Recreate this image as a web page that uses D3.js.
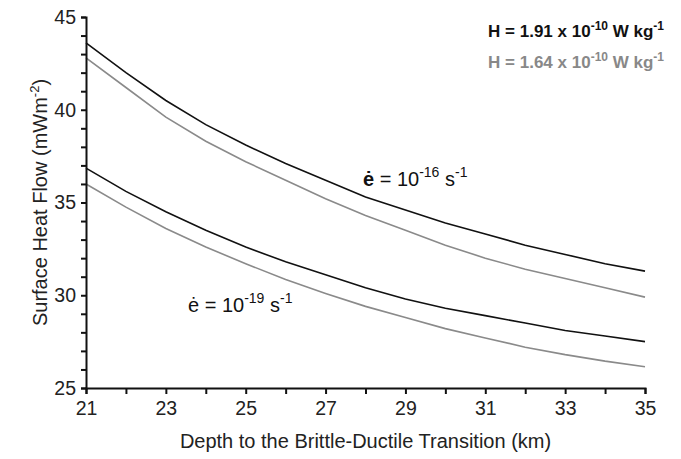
<!DOCTYPE html>
<html><head><meta charset="utf-8">
<script src="https://cdn.jsdelivr.net/npm/d3@7"></script>
<style>body{margin:0;background:#fff;} text{font-family:"Liberation Sans",Arial,sans-serif;}</style>
</head><body><svg id="c" width="681" height="459"></svg>
<script>
const depth = [21,22,23,24,25,26,27,28,29,30,31,32,33,34,35];
const hiStrainHighH = [43.6,42.0,40.5,39.2,38.1,37.1,36.2,35.3,34.6,33.9,33.3,32.7,32.2,31.7,31.3];
const hiStrainLowH  = [42.8,41.2,39.6,38.3,37.2,36.2,35.2,34.3,33.5,32.7,32.0,31.4,30.9,30.4,29.9];
const loStrainHighH = [36.85,35.6,34.5,33.5,32.6,31.8,31.1,30.4,29.8,29.3,28.9,28.5,28.1,27.8,27.5];
const loStrainLowH  = [36.0,34.75,33.6,32.6,31.7,30.85,30.1,29.4,28.8,28.2,27.7,27.2,26.8,26.45,26.15];
const xTickLabels = [21,23,25,27,29,31,33,35];
const yTickLabels = [25,30,35,40,45];

const svg = d3.select("#c");
const L=86, R=645, T=17, B=388;
const x = d3.scaleLinear().domain([21,35]).range([L,R]);
const y = d3.scaleLinear().domain([25,45]).range([B,T]);

const series = [
  {v: loStrainLowH, c:"#8a8a8a"},
  {v: loStrainHighH, c:"#111"},
  {v: hiStrainLowH, c:"#8a8a8a"},
  {v: hiStrainHighH, c:"#111"}
];
const line = d3.line().x((d,i)=>x(depth[i])).y(d=>y(d));
series.forEach(s=>{
  svg.append("path").attr("d", line(s.v)).attr("fill","none")
    .attr("stroke", s.c).attr("stroke-width",1.6);
});

// x axis
const xa = svg.append("g").attr("transform",`translate(0,${B})`)
  .call(d3.axisBottom(x).tickValues(d3.range(21,36)).tickSize(6)
    .tickFormat(d=> xTickLabels.includes(d)? d : ""));
xa.select(".domain").attr("stroke","#111").attr("stroke-width",2);
xa.selectAll(".tick line").attr("stroke","#111").attr("stroke-width",2);
xa.selectAll(".tick text").attr("font-size",19.5).attr("fill","#222").attr("y",9).attr("dy","0.9em")
  .attr("font-family","Liberation Sans, Arial, sans-serif");

// y axis
const ya = svg.append("g").attr("transform",`translate(${L},0)`)
  .call(d3.axisLeft(y).tickValues(d3.range(25,46)).tickSize(5)
    .tickFormat(d=> yTickLabels.includes(d)? d : ""));
ya.select(".domain").attr("stroke","#111").attr("stroke-width",2);
ya.selectAll(".tick line").attr("stroke","#111").attr("stroke-width",2);
ya.selectAll(".tick text").attr("font-size",19.5).attr("fill","#222").attr("x",-10)
  .attr("font-family","Liberation Sans, Arial, sans-serif");

// axis titles
svg.append("text").attr("x",(L+R)/2).attr("y",448).attr("text-anchor","middle")
  .attr("font-size",20).attr("fill","#222").text("Depth to the Brittle-Ductile Transition (km)");
const yt = svg.append("text").attr("transform",`translate(47,${(T+B)/2}) rotate(-90)`)
  .attr("text-anchor","middle").attr("font-size",20).attr("fill","#222");
yt.append("tspan").text("Surface Heat Flow (mWm");
yt.append("tspan").attr("dy",-8).attr("font-size",13).text("-2");
yt.append("tspan").attr("dy",8).text(")");

// legend
function legend(yb, num, color){
  const t = svg.append("text").attr("x",664).attr("y",yb).attr("text-anchor","end")
    .attr("font-size",17).attr("font-weight","bold").attr("fill",color);
  t.append("tspan").text(`H = ${num} x 10`);
  t.append("tspan").attr("dy",-7).attr("font-size",12).text("-10");
  t.append("tspan").attr("dy",7).text(" W kg");
  t.append("tspan").attr("dy",-7).attr("font-size",12).text("-1");
}
legend(37,"1.91","#111");
legend(68,"1.64","#888");

// annotations
function annot(xl, yb, exp, boldE){
  const t = svg.append("text").attr("x",xl).attr("y",yb).attr("font-size",20).attr("fill","#111");
  t.append("tspan").attr("font-weight", boldE?"bold":"normal").text("\u0117");
  t.append("tspan").text(" = 10");
  t.append("tspan").attr("dy",-9).attr("font-size",14).text(exp);
  t.append("tspan").attr("dy",9).text(" s");
  t.append("tspan").attr("dy",-9).attr("font-size",14).text("-1");
}
annot(363,186,"-16",true);
annot(188,312,"-19",false);
</script></body></html>
